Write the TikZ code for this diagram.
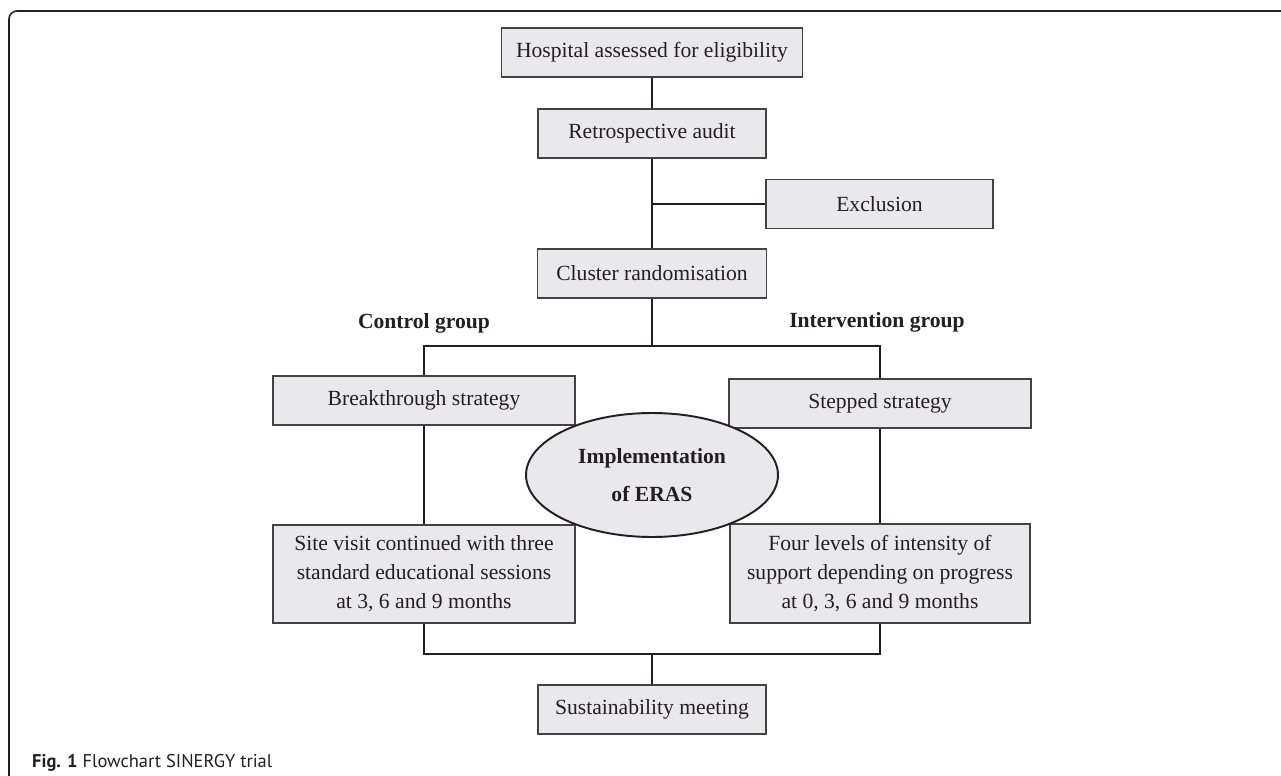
\documentclass[tikz,border=0pt]{standalone}
\usepackage{fontspec}
\setmainfont{Liberation Serif}
\newfontfamily\capfont{PT Sans}
\usetikzlibrary{shapes.geometric}
\definecolor{boxgray}{HTML}{E9E9EB}
\definecolor{ink}{HTML}{231F20}

\begin{document}
\begin{tikzpicture}[x=0.02cm, y=-0.02cm,
    stage/.style={draw=ink!85, line width=.7pt, fill=boxgray, text=ink,
        font=\fontsize{12.3}{16.5}\selectfont, align=center, inner sep=0pt,
        minimum height=0.98cm},
    link/.style={draw=ink, line width=1.1pt},
    grouplabel/.style={font=\fontsize{12.3}{15}\selectfont\bfseries, text=ink}]
\useasboundingbox (0,0) rectangle (1281,776);
\draw[ink, line width=.9pt, rounded corners=0.16cm] (9,776) -- (9,11) -- (1281,11);

% main column
\node[stage, minimum width=6.02cm] (hosp) at (652,52.5) {Hospital assessed for eligibility};
\node[stage, minimum width=4.56cm] (retro) at (652,133.5) {Retrospective audit};
\node[stage, minimum width=4.54cm] (excl) at (879.5,204) {Exclusion};
\node[stage, minimum width=4.58cm] (clust) at (652,273.5) {Cluster randomisation};

% the two arms
\node[grouplabel] (ctrl) at (424,323) {Control group};
\node[grouplabel] (intv) at (877,322) {Intervention group};
\node[stage, minimum width=6.04cm] (brk) at (424,400.5) {Breakthrough strategy};
\node[stage, minimum width=6.04cm] (stepped) at (880,403.5) {Stepped strategy};
\node[stage, minimum width=6.04cm, minimum height=1.96cm] (site) at (424,574)
    {Site visit continued with three\\standard educational sessions\\at 3, 6 and 9 months};
\node[stage, minimum width=6.0cm, minimum height=1.98cm] (four) at (880,573.5)
    {Four levels of intensity of\\support depending on progress\\at 0, 3, 6 and 9 months};
\node[stage, minimum width=4.56cm] (sust) at (652,709.5) {Sustainability meeting};

\coordinate (split) at (652,346);
\coordinate (merge) at (652,654);
\draw[link] (hosp) -- (retro);
\draw[link] (retro) -- (clust);
\draw[link] (retro.south |- excl.west) -- (excl.west);
\draw[link] (clust) -- (split);
\draw[link] (brk.north) |- (split) -| (stepped.north);
\draw[link] (brk) -- (site);
\draw[link] (stepped) -- (four);
\draw[link] (site.south) |- (merge) -| (four.south);
\draw[link] (merge) -- (sust);

\node[ellipse, draw=ink, line width=1.1pt, fill=boxgray, text=ink, inner sep=0pt,
    minimum width=5.04cm, minimum height=2.48cm, align=center,
    font=\fontsize{12.3}{21.6}\selectfont\bfseries] (eras) at (652,475) {Implementation\\of ERAS};

\node[anchor=base west, text=ink, font=\capfont\fontsize{10.5}{12}\selectfont] (cap) at (26,767)
    {\textbf{Fig. 1} Flowchart SINERGY trial};
\end{tikzpicture}
\end{document}
